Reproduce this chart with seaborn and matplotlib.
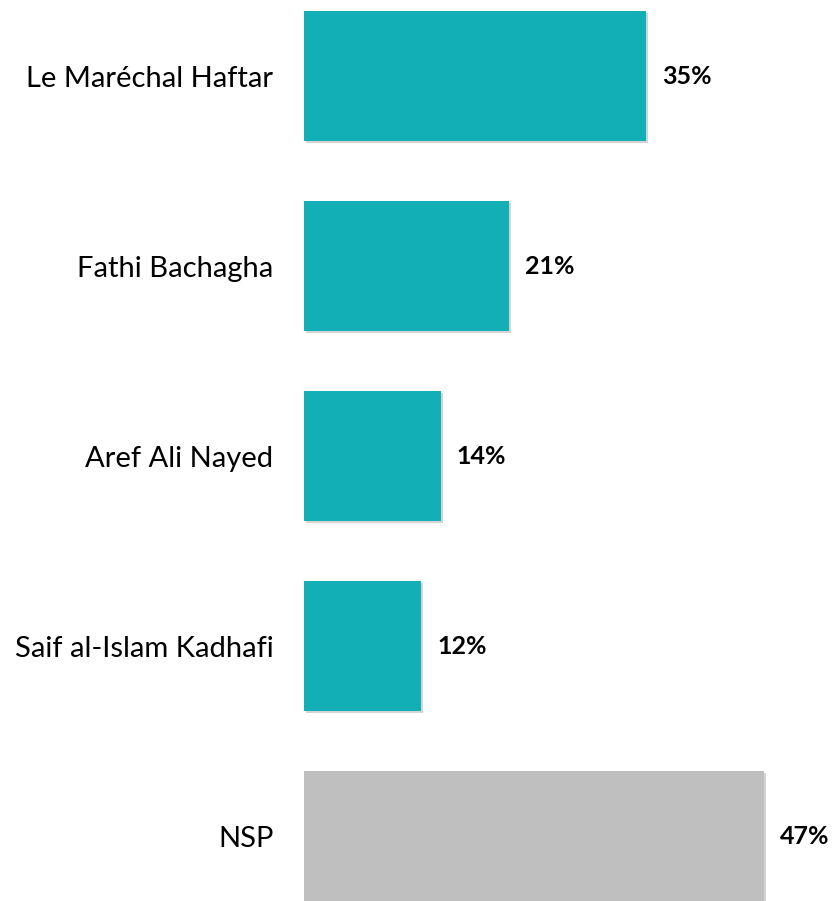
import matplotlib
matplotlib.use("Agg")
import matplotlib.pyplot as plt
import matplotlib.patheffects as pe
import pandas as pd
import seaborn as sns

# ── data ──────────────────────────────────────────────────────────────────────
CANDIDATES = ["Le Maréchal Haftar", "Fathi Bachagha", "Aref Ali Nayed",
              "Saif al-Islam Kadhafi", "NSP"]
SHARES     = [35, 21, 14, 12, 47]
COLORS     = ["#13AFB7", "#13AFB7", "#13AFB7", "#13AFB7", "#BFBFBF"]

sns.set_theme(style="white")
plt.rcParams["font.family"] = ["Lato", "DejaVu Sans"]

df = pd.DataFrame({"candidate": CANDIDATES, "share": SHARES})

fig = plt.figure(figsize=(8.33, 9.01), dpi=100)
ax = fig.add_axes([304 / 833, 0, 529 / 833, 1])

sns.barplot(data=df, y="candidate", x="share", hue="candidate",
            palette=COLORS, width=0.684, saturation=1, linewidth=0,
            legend=False, ax=ax, orient="h")

# soft drop shadow like the original
shadow = [pe.SimplePatchShadow(offset=(1.5, -1.5), alpha=0.25, shadow_rgbFace="#555555"),
          pe.Normal()]
for bar in ax.patches:
    bar.set_path_effects(shadow)
    bar.set_edgecolor("none")

for container in ax.containers:
    ax.bar_label(container, labels=[f"{v:.0f}%" for v in container.datavalues],
                 padding=11.5, fontsize=18, fontweight="bold", color="black")

ax.set_xlim(0, 54.1)
ax.set_ylim(4.342, -0.4)
ax.set_xlabel("")
ax.set_ylabel("")
ax.set_xticks([])
ax.tick_params(axis="y", length=0, pad=22, labelsize=21, labelcolor="black")
for s in ax.spines.values():
    s.set_visible(False)

fig.savefig("out.png", dpi=100)
